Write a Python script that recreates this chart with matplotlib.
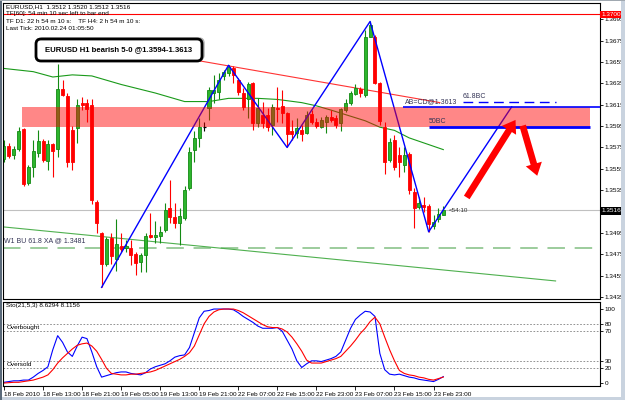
import matplotlib
matplotlib.use('Agg')
import matplotlib.pyplot as plt
import numpy as np
from matplotlib.patches import Rectangle, FancyBboxPatch, FancyArrowPatch

plt.rcParams['font.family'] = ['Liberation Sans', 'DejaVu Sans']

# ---------------- data (EURUSD H1) ----------------
opens = [1.3564, 1.3576, 1.3568, 1.3574, 1.3592, 1.3542, 1.3557, 1.3570, 1.3581, 1.3562,
         1.3578, 1.3574, 1.3630, 1.3623, 1.3591, 1.3593, 1.3617, 1.3617, 1.3615, 1.3524,
         1.3495, 1.3466, 1.3490, 1.3471, 1.3483, 1.3481, 1.3481, 1.3475, 1.3468, 1.3474,
         1.3493, 1.3491, 1.3492, 1.3498, 1.3518, 1.3510, 1.3504, 1.3509, 1.3537, 1.3573,
         1.3584, 1.3594, 1.3612, 1.3626, 1.3627, 1.3642, 1.3645, 1.3649, 1.3638, 1.3626,
         1.3620, 1.3635, 1.3598, 1.3605, 1.3605, 1.3596, 1.3612, 1.3614, 1.3607, 1.3590,
         1.3589, 1.3591, 1.3589, 1.3606, 1.3599, 1.3594, 1.3599, 1.3604, 1.3603, 1.3598,
         1.3610, 1.3617, 1.3625, 1.3630, 1.3624, 1.3678, 1.3678, 1.3635, 1.3594, 1.3563,
         1.3582, 1.3568, 1.3559, 1.3569, 1.3533, 1.3519, 1.3521, 1.3520, 1.3501, 1.3508,
         1.3512]
highs = [1.3582, 1.3579, 1.3576, 1.3594, 1.3593, 1.3559, 1.3582, 1.3591, 1.3583, 1.3582,
         1.3579, 1.3653, 1.3638, 1.3626, 1.3595, 1.3620, 1.3622, 1.3620, 1.3620, 1.3526,
         1.3496, 1.3491, 1.3495, 1.3508, 1.3495, 1.3488, 1.3488, 1.3477, 1.3476, 1.3495,
         1.3514, 1.3506, 1.3501, 1.3523, 1.3545, 1.3523, 1.3518, 1.3539, 1.3575, 1.3590,
         1.3603, 1.3599, 1.3632, 1.3643, 1.3645, 1.3648, 1.3652, 1.3651, 1.3640, 1.3631,
         1.3636, 1.3636, 1.3621, 1.3618, 1.3612, 1.3616, 1.3632, 1.3629, 1.3608, 1.3601,
         1.3603, 1.3596, 1.3609, 1.3610, 1.3603, 1.3604, 1.3605, 1.3610, 1.3605, 1.3612,
         1.3620, 1.3628, 1.3634, 1.3632, 1.3685, 1.3693, 1.3680, 1.3636, 1.3599, 1.3584,
         1.3587, 1.3575, 1.3575, 1.3571, 1.3537, 1.3529, 1.3529, 1.3522, 1.3512, 1.3518,
         1.3520]
lows = [1.3561, 1.3565, 1.3564, 1.3572, 1.3539, 1.3540, 1.3547, 1.3566, 1.3561, 1.3554,
        1.3547, 1.3566, 1.3623, 1.3557, 1.3554, 1.3579, 1.3610, 1.3599, 1.3522, 1.3495,
        1.3444, 1.3464, 1.3466, 1.3459, 1.3477, 1.3477, 1.3465, 1.3456, 1.3458, 1.3458,
        1.3490, 1.3486, 1.3486, 1.3496, 1.3504, 1.3500, 1.3484, 1.3507, 1.3535, 1.3561,
        1.3575, 1.3590, 1.3601, 1.3617, 1.3620, 1.3638, 1.3642, 1.3635, 1.3624, 1.3610,
        1.3603, 1.3591, 1.3594, 1.3593, 1.3590, 1.3587, 1.3599, 1.3598, 1.3575, 1.3582,
        1.3584, 1.3581, 1.3588, 1.3597, 1.3593, 1.3593, 1.3589, 1.3599, 1.3593, 1.3590,
        1.3608, 1.3615, 1.3624, 1.3622, 1.3622, 1.3678, 1.3634, 1.3596, 1.3550, 1.3561,
        1.3554, 1.3547, 1.3552, 1.3531, 1.3500, 1.3517, 1.3515, 1.3496, 1.3499, 1.3505,
        1.3512]
closes = [1.3576, 1.3567, 1.3574, 1.3590, 1.3541, 1.3557, 1.3572, 1.3581, 1.3563, 1.3578,
          1.3572, 1.3630, 1.3624, 1.3561, 1.3561, 1.3615, 1.3615, 1.3611, 1.3526, 1.3504,
          1.3466, 1.3489, 1.3473, 1.3485, 1.3480, 1.3483, 1.3474, 1.3467, 1.3474, 1.3492,
          1.3491, 1.3493, 1.3496, 1.3516, 1.3510, 1.3504, 1.3511, 1.3535, 1.3571, 1.3584,
          1.3594, 1.3594, 1.3629, 1.3629, 1.3638, 1.3646, 1.3650, 1.3643, 1.3627, 1.3613,
          1.3634, 1.3598, 1.3612, 1.3598, 1.3594, 1.3613, 1.3611, 1.3607, 1.3588, 1.3588,
          1.3593, 1.3588, 1.3605, 1.3599, 1.3595, 1.3601, 1.3604, 1.3601, 1.3596, 1.3611,
          1.3617, 1.3626, 1.3631, 1.3626, 1.3678, 1.3690, 1.3635, 1.3600, 1.3561, 1.3580,
          1.3557, 1.3561, 1.3568, 1.3535, 1.3518, 1.3523, 1.3519, 1.3503, 1.3505, 1.3513,
          1.3516]

sto_main = [1, 2, 3, 3, 4, 4, 8, 13, 17, 22, 45, 64, 55, 42, 36, 50, 62, 60, 42, 22,
            8, 10, 12, 14, 15, 15, 13, 12, 11, 14, 19, 22, 24, 26, 30, 35, 37, 38, 48, 68,
            88, 97, 98, 100, 100, 100, 100, 99, 95, 90, 86, 82, 77, 74, 74, 74, 75, 70, 58, 46,
            30, 21, 26, 30, 30, 29, 31, 33, 36, 42, 58, 74, 86, 92, 97, 96, 90, 40, 18, 12,
            11, 12, 10, 8, 7, 5, 4, 3, 2, 5, 8.63]
sto_signal = [0, 0.5, 1, 1, 2, 3, 4, 6, 8, 11, 18, 27, 34, 40, 46, 51, 53, 54, 50, 43,
              32, 20, 13, 12, 11, 11, 12, 12, 13, 14, 15, 17, 20, 23, 26, 29, 32, 36, 41, 50,
              65, 80, 90, 96, 99, 100, 100, 100, 98, 95, 91, 87, 83, 79, 76, 75, 75, 73, 69, 62,
              53, 43, 31, 27, 27, 27, 29, 31, 33, 36, 43, 50, 58, 67, 74, 83, 89, 80, 62, 45,
              30, 17, 13, 11, 10, 8, 7, 5, 4, 6, 8.12]

# moving average (bar index, price)
ma_bars = [0, 6, 10, 14, 18, 24, 31, 37, 42, 46, 52, 56, 61, 64, 67, 74, 77, 80, 83, 90]
ma_vals = [1.3649, 1.3646, 1.3641, 1.3643, 1.3642, 1.3634, 1.3626, 1.3618, 1.3618, 1.3621,
           1.3621, 1.3620, 1.3617, 1.3614, 1.3610, 1.3600, 1.3594, 1.3591, 1.3584, 1.3573]

# harmonic pattern X-A-B-C-D-projection
pat_bars = [20, 46, 58, 75, 87, 104]
pat_vals = [1.3444, 1.3652, 1.3575, 1.3693, 1.3496, 1.3613]

date_labels = ['18 Feb 2010', '18 Feb 13:00', '18 Feb 21:00', '19 Feb 05:00', '19 Feb 13:00',
               '19 Feb 21:00', '22 Feb 07:00', '22 Feb 15:00', '22 Feb 23:00', '23 Feb 07:00',
               '23 Feb 15:00', '23 Feb 23:00']
price_ticks = [1.3435, 1.3455, 1.3475, 1.3495, 1.3535, 1.3555, 1.3575, 1.3595,
               1.3615, 1.3635, 1.3655, 1.3675, 1.3695]

zone_low, zone_high = 1.3594, 1.3613
abcd_level = 1.3613
bc618_level = 1.3618
bc50_level = 1.3594
w1_level = 1.3481
high_level = 1.3700
bid = 1.3516

n = len(opens)
idx = np.arange(n)
o = np.array(opens); h = np.array(highs); l = np.array(lows); c = np.array(closes)

W, H = 625, 400
fig = plt.figure(figsize=(6.25, 4.0), dpi=100)
fig.patch.set_facecolor('white')

def fr(x0, y0, x1, y1):
    return [x0 / W, 1 - y1 / H, (x1 - x0) / W, (y1 - y0) / H]

XMIN, XMAX = -0.2, 122.1
ax = fig.add_axes(fr(3, 3, 600, 299))
ax.set_xlim(XMIN, XMAX)
ax.set_ylim(1.34331, 1.37103)
sx = fig.add_axes(fr(3, 302, 600, 386))
sx.set_xlim(XMIN, XMAX)
sx.set_ylim(-4.0, 109.5)

for a in (ax, sx):
    for s in a.spines.values():
        s.set_linewidth(0.8)
        s.set_color('black')

# --- candles ---
bull_f, bull_e = '#2db52d', '#138a13'
bear = '#ff0000'
bw = 0.62
for i in idx:
    if c[i] > o[i]:
        ax.vlines(i, l[i], h[i], color=bull_e, lw=0.8, zorder=2)
        ax.add_patch(Rectangle((i - bw / 2, o[i]), bw, c[i] - o[i], fc=bull_f, ec=bull_e,
                               lw=0.6, zorder=2.1))
    elif c[i] < o[i]:
        ax.vlines(i, l[i], h[i], color=bear, lw=0.8, zorder=2)
        ax.add_patch(Rectangle((i - bw / 2, c[i]), bw, o[i] - c[i], fc=bear, ec=bear,
                               lw=0.6, zorder=2.1))
    else:
        ax.vlines(i, l[i], h[i], color='black', lw=0.8, zorder=2)
        ax.hlines(o[i], i - bw / 2, i + bw / 2, color='black', lw=0.9, zorder=2.1)

# --- lines ---
ax.plot(ma_bars, ma_vals, color='#1a9a1a', lw=0.8, zorder=1.8)
ax.plot([-1, 113], [1.3501, 1.3450], color='#4fb04f', lw=0.8, zorder=1.8)
ax.plot([40.2, 89.3], [1.3656, 1.3617], color='#ff3333', lw=0.8, zorder=1.8)
ax.axhline(high_level, color='#ff0000', lw=0.8, zorder=1.5)
ax.axhline(bid, color='#c0c0c0', lw=0.8, zorder=1.2)
ax.axhline(w1_level, color='#9ccc9c', lw=1.4, dashes=(9, 5), zorder=1.3)
ax.plot(pat_bars, pat_vals, color='#0000ff', lw=1.0, zorder=2.5)

ax.add_patch(Rectangle((3.7, zone_low), 120 - 3.7, zone_high - zone_low,
                       fc='#ff0000', alpha=0.47, ec='none', zorder=3))

ax.hlines(abcd_level, 81.8, XMAX, color='#0000ff', lw=1.2, zorder=4)
ax.hlines(bc618_level, 94, 113, color='#0000ff', lw=1.0, linestyles=(0, (7, 4)), zorder=4)
ax.hlines(bc50_level, 87, 120, color='#0000ff', lw=2.0, zorder=4)

ax.text(82.2, abcd_level + 0.00015, 'AB=CD@1.3613', fontsize=5, color='#333355',
        va='bottom', ha='left', zorder=5)
ax.text(93.9, bc618_level + 0.00015, '61.8BC', fontsize=5, color='#333355',
        va='bottom', ha='left', zorder=5)
ax.text(87.0, bc50_level + 0.00022, '50BC', fontsize=5, color='#333355',
        va='bottom', ha='left', zorder=5)
ax.text(91.2, bid, '<54:10', fontsize=4.5, color='#333333', va='center', ha='left', zorder=5)
ax.text(0.0, w1_level + 0.00030, 'W1 BU 61.8 XA @ 1.3481', fontsize=5, color='#333355',
        va='bottom', ha='left', zorder=5)

# big red arrows
for (t, hd) in [((94.5, 1.3526), (105.1, 1.3603)), ((106.1, 1.3598), (109.4, 1.3546))]:
    ax.add_patch(FancyArrowPatch(t, hd, arrowstyle='simple,head_width=1.5,head_length=1.1,tail_width=0.6',
                                 mutation_scale=8, color='#ff0000', lw=0, zorder=6))

# y ticks (right)
ax.yaxis.tick_right()
ax.set_yticks(price_ticks)
ax.set_yticklabels(['%.4f' % p for p in price_ticks])
ax.tick_params(axis='y', labelsize=4.6, length=2, width=0.6, pad=1.5)
ax.set_xticks([])

# --- stochastic ---
for lv in (80, 70, 30, 20):
    sx.axhline(lv, color='#808080', lw=0.6, dashes=(2, 2))
sx.plot(idx, sto_main, color='#0000ff', lw=0.8)
sx.plot(idx, sto_signal, color='#ff0000', lw=0.8)
sx.yaxis.tick_right()
sx.set_yticks([0, 20, 30, 70, 80, 100])
sx.set_yticklabels(['0', '20', '30', '70', '80', '100'])
sx.tick_params(axis='y', labelsize=4.6, length=2, width=0.6, pad=1.5)
sx.set_xticks(np.arange(0, 89, 8))
sx.set_xticklabels(date_labels, ha='left')
sx.tick_params(axis='x', labelsize=4.6, length=3, width=0.6, pad=1.5, direction='out')
sx.text(0.5, 101, 'Sto(21,5,3) 8.6294 8.1156', fontsize=4.6, va='bottom', ha='left')
sx.text(0.5, 71, 'Overbought', fontsize=4.6, va='bottom', ha='left')
sx.text(0.5, 21, 'Oversold', fontsize=4.6, va='bottom', ha='left')

# --- pixel overlay ---
ov = fig.add_axes([0, 0, 1, 1], zorder=10)
ov.set_xlim(0, W); ov.set_ylim(H, 0); ov.axis('off'); ov.patch.set_alpha(0)

hdr = ['EURUSD,H1  1.3512 1.3520 1.3512 1.3516',
       'TF[60]: 54 min 10 sec left to bar end',
       'TF D1: 22 h 54 m 10 s:    TF H4: 2 h 54 m 10 s:',
       'Last Tick: 2010.02.24 01:05:50']
for k, s in enumerate(hdr):
    ov.text(6, 6.5 + 7.5 * k, s, fontsize=4.6, va='center', ha='left', color='black')

ov.add_patch(FancyBboxPatch((38, 38), 166, 22, boxstyle='round,pad=0,rounding_size=5',
                            fc='#d0d0d0', ec='#b0b0b0', lw=1))
ov.add_patch(FancyBboxPatch((36, 39), 166, 22, boxstyle='round,pad=0,rounding_size=5',
                            fc='white', ec='black', lw=2.0))
ov.text(119, 50, 'EURUSD H1 bearish 5-0 @1.3594-1.3613', fontsize=5.6, weight='bold',
        ha='center', va='center')

# price boxes on axis
ov.add_patch(Rectangle((600, 10.5), 23, 7, fc='#ff0000', ec='none'))
ov.text(611.5, 14, '1.3700', fontsize=4.6, color='white', ha='center', va='center')
ov.add_patch(Rectangle((600, 207), 23, 8, fc='black', ec='none'))
ov.text(611.5, 211, '1.3516', fontsize=4.6, color='white', ha='center', va='center')

# window frame
ov.add_patch(Rectangle((621, 0), 4, 400, fc='#c9d3df', ec='none'))
ov.add_patch(Rectangle((0, 396.5), 625, 3.5, fc='#c9d3df', ec='none'))
ov.add_patch(Rectangle((0, 0), 1.5, 400, fc='#5a6a7a', ec='none'))
ov.add_patch(Rectangle((0, 0), 625, 1.0, fc='#a0a8b0', ec='none'))

fig.savefig('out.png', dpi=100)
